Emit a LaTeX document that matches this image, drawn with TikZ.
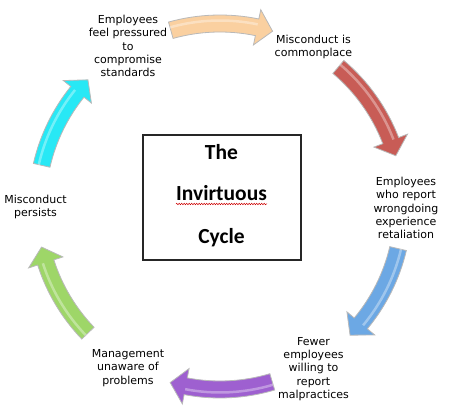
\documentclass[tikz,border=0pt]{standalone}
\usepackage{fontspec}
\setmainfont{DejaVu Sans}
\newfontfamily\titlefont{Carlito}
\usetikzlibrary{decorations.pathmorphing}

\definecolor{cpeach}{RGB}{250,208,160}
\definecolor{cred}{RGB}{200,92,86}
\definecolor{cblue}{RGB}{108,168,228}
\definecolor{cpurple}{RGB}{158,96,208}
\definecolor{cgreen}{RGB}{158,214,104}
\definecolor{ccyan}{RGB}{40,232,245}

\tikzset{
  lbl/.style={align=center,font=\fontsize{11}{13.3}\selectfont,inner sep=0pt},
  titletext/.style={font=\titlefont\bfseries\fontsize{21.5}{24}\selectfont,inner sep=0pt,anchor=base},
  titlebox/.style={draw=black!85,line width=1.2pt,minimum width=158pt,minimum height=125pt,inner sep=0pt},
  squiggle/.style={red!80!black,line width=0.5pt,decorate,decoration={snake,amplitude=0.7pt,segment length=2.5pt}},
}

% 円弧の矢印: 色, 始点の角度, 先端の角度, 半径
\newcommand{\cyclearrow}[4]{%
  \pgfmathsetmacro\headang{#3+5}
  \filldraw[#1,draw=gray!55,line width=0.8pt,shift={(220,213.5)}]
    ({#2}:{#4+8.5}) arc[start angle=#2,end angle=\headang,radius={#4+8.5}]
    -- ({\headang}:{#4+18}) -- ({#3}:{#4}) -- ({\headang}:{#4-18}) -- ({\headang}:{#4-8.5})
    arc[start angle=\headang,end angle=#2,radius={#4-8.5}] -- cycle;
  \draw[white,opacity=0.35,line width=2.5pt,shift={(220,213.5)}]
    ({#2}:{#4+3}) arc[start angle=#2,end angle=\headang,radius={#4+3}];
}

\begin{document}
\begin{tikzpicture}[x=1pt,y=1pt]
  \useasboundingbox (0,0) rectangle (451,420);
  % 中央の枠
  \node[titlebox] (box) at (222,222.5) {};
  \node[titletext] (the) at (221.5,260) {The};
  \node[titletext] (inv) at (221.5,219) {Invirtuous};
  \node[titletext] (cyc) at (221.5,176) {Cycle};
  \draw[squiggle] ([yshift=-3pt]inv.base west) -- ([yshift=-3pt]inv.base east);
  % 各段階
  \node[lbl] (press) at (128,374) {Employees\\feel pressured\\to\\compromise\\standards};
  \node[lbl] (common) at (313.5,373) {Misconduct is\\commonplace};
  \node[lbl] (retal) at (406,212) {Employees\\who report\\wrongdoing\\experience\\retaliation};
  \node[lbl] (fewer) at (313.5,51) {Fewer\\employees\\willing to\\report\\malpractices};
  \node[lbl] (unaware) at (128,52) {Management\\unaware of\\problems};
  \node[lbl] (persist) at (35.5,213) {Misconduct\\persists};
  % 矢印
  \cyclearrow{cpeach}{105.6}{73.3}{183}
  \cyclearrow{cred}{49.7}{16.1}{183}
  \cyclearrow{cblue}{-13.3}{-44.7}{183}
  \cyclearrow{cpurple}{-73.4}{-105.8}{183}
  \cyclearrow{cgreen}{223.8}{192.8}{183}
  \cyclearrow{ccyan}{167}{136.2}{183}
\end{tikzpicture}
\end{document}
